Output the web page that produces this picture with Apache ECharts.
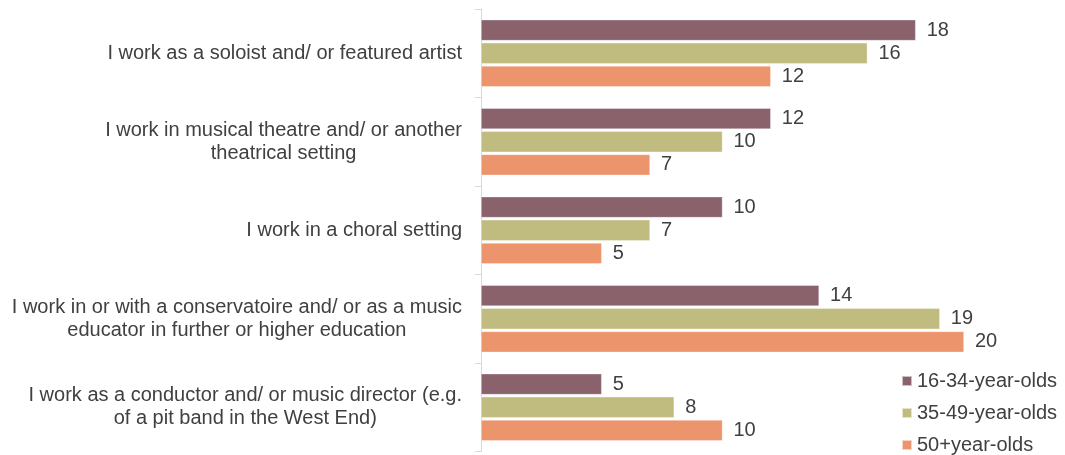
<!DOCTYPE html>
<html>
<head>
<meta charset="utf-8">
<script src="https://cdn.jsdelivr.net/npm/echarts@6/dist/echarts.min.js"></script>
<style>
  html, body { margin: 0; padding: 0; background: #fff; }
  #chart { width: 1065px; height: 455px; }
</style>
</head>
<body>
<div id="chart"></div>
<script>
// Work settings, top to bottom
const categories = [
  'I work as a soloist and/ or featured artist',
  'I work in musical theatre and/ or another\ntheatrical setting',
  'I work in a choral setting',
  'I work in or with a conservatoire and/ or as a music\neducator in further or higher education',
  'I work as a conductor and/ or music director (e.g.\nof a pit band in the West End)'
];

const seriesNames = ['16-34-year-olds', '35-49-year-olds', '50+year-olds'];

// Values per age group, in category order
const age16to34 = [18, 12, 10, 14, 5];
const age35to49 = [16, 10, 7, 19, 8];
const age50plus = [12, 7, 5, 20, 10];

const seriesColors = ['#8a626c', '#c0bb7e', '#ec946c'];

const FONT = '"Liberation Sans", Arial, sans-serif';
const TEXT_COLOR = '#404040';
const FONT_SIZE = 20;

const chart = echarts.init(document.getElementById('chart'));

const seriesData = [age16to34, age35to49, age50plus];

chart.setOption({
  animation: false,
  textStyle: { fontFamily: FONT },
  grid: { left: 481, right: 101, top: 9, bottom: 3.5, containLabel: false },
  legend: {
    orient: 'vertical',
    left: 901,
    top: 371,
    height: 90,
    padding: 0,
    itemWidth: 10,
    itemHeight: 10,
    itemGap: 12,
    icon: 'rect',
    textStyle: { fontSize: FONT_SIZE, color: TEXT_COLOR, fontFamily: FONT },
    data: seriesNames
  },
  xAxis: {
    type: 'value',
    min: 0,
    max: 20,
    show: false
  },
  yAxis: {
    type: 'category',
    inverse: true,
    data: categories,
    axisLine: { show: true, lineStyle: { color: '#d9d9d9', width: 1 } },
    axisTick: { show: true, length: 6, lineStyle: { color: '#d9d9d9' } },
    axisLabel: {
      margin: 19,
      color: TEXT_COLOR,
      fontSize: FONT_SIZE,
      fontFamily: FONT,
      lineHeight: 23,
      formatter: function (v) {
        return v.split('\n').map(function (l) { return '{c|' + l + '}'; }).join('\n');
      },
      rich: {
        c: { align: 'center', fontSize: FONT_SIZE, lineHeight: 23, color: TEXT_COLOR, fontFamily: FONT }
      }
    },
    splitLine: { show: false }
  },
  series: seriesNames.map(function (name, i) {
    return {
      name: name,
      type: 'bar',
      data: seriesData[i],
      barWidth: 21,
      barGap: '10%',
      itemStyle: { color: seriesColors[i], borderColor: 'rgba(255,255,255,0.6)', borderWidth: 0.6 },
      label: {
        show: true,
        position: 'right',
        distance: 11,
        fontSize: FONT_SIZE,
        color: TEXT_COLOR,
        fontFamily: FONT
      }
    };
  })
});
</script>
</body>
</html>
